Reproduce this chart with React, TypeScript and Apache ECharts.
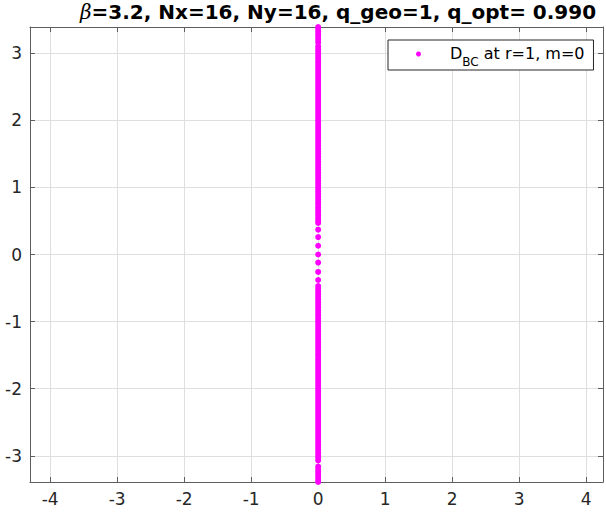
import React, { useEffect, useRef } from "react";
import * as echarts from "echarts";

// Axis extents (real part on x, imaginary part on y)
const xRange = [-4.3, 4.25];
const yRange = [-3.39, 3.39];

// Imaginary parts of the eigenvalues, all with zero real part
const upperBand = [
  3.39, 3.36, 3.32, 3.28, 3.24, 3.2, 3.16, 3.1, 3.06, 3.02, 2.98, 2.94, 2.9,
  2.86, 2.82, 2.78, 2.74, 2.7, 2.66, 2.62, 2.58, 2.54, 2.5, 2.46, 2.42, 2.38,
  2.34, 2.3, 2.26, 2.22, 2.18, 2.14, 2.1, 2.06, 2.02, 1.98, 1.94, 1.9, 1.86,
  1.82, 1.78, 1.74, 1.7, 1.66, 1.62, 1.58, 1.54, 1.5, 1.46, 1.42, 1.38, 1.34,
  1.3, 1.26, 1.22, 1.18, 1.14, 1.1, 1.06, 1.02, 0.98, 0.94, 0.9, 0.86, 0.82,
  0.78, 0.74, 0.7, 0.66, 0.62, 0.58, 0.54, 0.5, 0.47,
];
const centralModes = [0.37, 0.26, 0.13, 0.0, -0.12, -0.26, -0.38];
const lowerBand = [
  -0.47, -0.51, -0.55, -0.59, -0.63, -0.67, -0.71, -0.75, -0.79, -0.83, -0.87,
  -0.91, -0.95, -0.99, -1.03, -1.07, -1.11, -1.15, -1.19, -1.23, -1.27, -1.31,
  -1.35, -1.39, -1.43, -1.47, -1.51, -1.55, -1.59, -1.63, -1.67, -1.71, -1.75,
  -1.79, -1.83, -1.87, -1.91, -1.95, -1.99, -2.03, -2.07, -2.11, -2.15, -2.19,
  -2.23, -2.27, -2.31, -2.35, -2.39, -2.43, -2.47, -2.51, -2.55, -2.59, -2.63,
  -2.67, -2.71, -2.75, -2.79, -2.83, -2.87, -2.91, -2.95, -2.99, -3.03, -3.07,
  -3.16, -3.2, -3.24, -3.28, -3.32, -3.36, -3.39,
];
const realPart = 0;

const seriesName = "DBC at r=1, m=0";
const titleText = "{beta|β}{main|=3.2, Nx=16, Ny=16, q_geo=1, q_opt= 0.990}";

const FONT = "DejaVu Sans";
const AXIS_COLOR = "#5e5e5e";
const LABEL_COLOR = "#262626";
const GRID_COLOR = "#dfdfdf";

const intLabel = (v: number) =>
  Math.abs(v - Math.round(v)) < 1e-9 ? String(Math.round(v)) : "";

export default function App() {
  const ref = useRef<HTMLDivElement>(null);

  useEffect(() => {
    if (!ref.current) return;
    const chart = echarts.init(ref.current, undefined, { renderer: "svg" });

    const points = [...upperBand, ...centralModes, ...lowerBand].map((y) => [
      realPart,
      y,
    ]);

    const mainAxisCommon = {
      minInterval: 1,
      maxInterval: 1,
      axisLine: {
        show: true,
        onZero: false,
        lineStyle: { color: AXIS_COLOR, width: 1 },
      },
      axisTick: {
        show: true,
        inside: true,
        length: 5,
        lineStyle: { color: AXIS_COLOR },
      },
      splitLine: { show: true, lineStyle: { color: GRID_COLOR, width: 1 } },
      axisLabel: {
        show: true,
        margin: 8,
        color: LABEL_COLOR,
        fontFamily: FONT,
        fontSize: 17,
        formatter: intLabel,
      },
    };
    const mirrorAxisCommon = {
      minInterval: 1,
      maxInterval: 1,
      axisLine: {
        show: true,
        onZero: false,
        lineStyle: { color: AXIS_COLOR, width: 1 },
      },
      axisTick: {
        show: true,
        inside: true,
        length: 5,
        lineStyle: { color: AXIS_COLOR },
      },
      splitLine: { show: false },
      axisLabel: { show: false },
    };

    chart.setOption({
      animation: false,
      backgroundColor: "#ffffff",
      title: {
        text: titleText,
        left: 80,
        top: 1,
        padding: 0,
        textStyle: {
          rich: {
            beta: {
              fontFamily: "DejaVu Serif",
              fontStyle: "italic",
              fontWeight: "normal",
              fontSize: 20,
              lineHeight: 22,
              color: "#000000",
            },
            main: {
              fontFamily: FONT,
              fontWeight: "bold",
              fontSize: 20,
              lineHeight: 22,
              color: "#000000",
            },
          },
        },
      },
      legend: {
        show: true,
        left: 388,
        top: 40,
        orient: "vertical",
        padding: [5, 9, 2, 28],
        itemWidth: 5,
        itemHeight: 5,
        icon: "circle",
        borderColor: "#262626",
        borderWidth: 1,
        borderRadius: 0,
        backgroundColor: "#ffffff",
        formatter: () => "{d|D}{s|BC}{n| at r=1, m=0}",
        textStyle: {
          rich: {
            d: {
              fontFamily: FONT,
              fontSize: 16,
              color: "#000000",
              lineHeight: 18,
              padding: [0, 0, 0, 24],
              verticalAlign: "top",
            },
            n: {
              fontFamily: FONT,
              fontSize: 16,
              color: "#000000",
              lineHeight: 18,
              verticalAlign: "top",
            },
            s: {
              fontFamily: FONT,
              fontSize: 12,
              color: "#000000",
              lineHeight: 15,
              padding: [11, 0, 0, 0],
              verticalAlign: "top",
            },
          },
        },
        data: [seriesName],
      },
      grid: {
        left: 30,
        top: 27,
        width: 575,
        height: 455,
        containLabel: false,
        show: false,
      },
      xAxis: [
        {
          type: "value",
          position: "bottom",
          min: xRange[0],
          max: xRange[1],
          ...mainAxisCommon,
        },
        {
          type: "value",
          position: "top",
          min: xRange[0],
          max: xRange[1],
          ...mirrorAxisCommon,
        },
      ],
      yAxis: [
        {
          type: "value",
          position: "left",
          min: yRange[0],
          max: yRange[1],
          ...mainAxisCommon,
        },
        {
          type: "value",
          position: "right",
          min: yRange[0],
          max: yRange[1],
          ...mirrorAxisCommon,
        },
      ],
      series: [
        {
          name: seriesName,
          type: "scatter",
          xAxisIndex: 0,
          yAxisIndex: 0,
          data: points,
          symbol: "circle",
          symbolSize: 6,
          clip: false,
          itemStyle: { color: "#ff00ff", opacity: 1 },
          emphasis: { disabled: true },
        },
      ],
    });

    return () => chart.dispose();
  }, []);

  return (
    <div
      ref={ref}
      style={{ position: "fixed", left: 0, top: 0, width: 606, height: 517 }}
    />
  );
}
